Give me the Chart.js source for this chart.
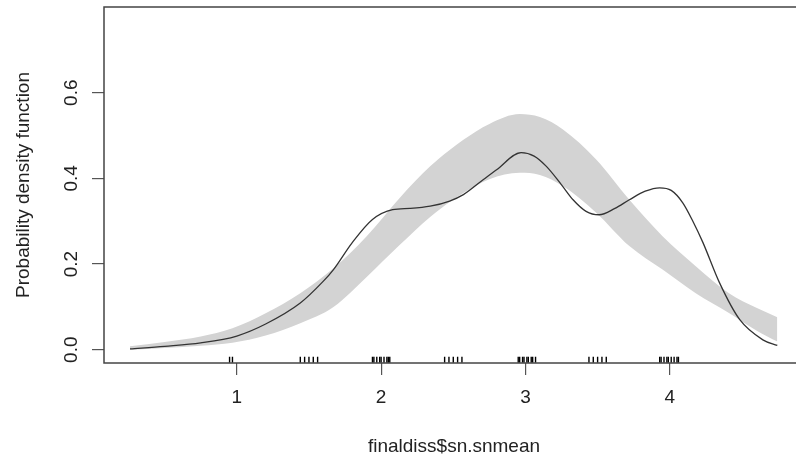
<!DOCTYPE html>
<html>
<head>
<meta charset="utf-8">
<script src="https://cdn.jsdelivr.net/npm/chart.js@4"></script>
<style>
    html, body { margin: 0; padding: 0; background: #fff; overflow: hidden; }
    #wrap { width: 796px; height: 462px; overflow: hidden; }
</style>
</head>
<body>
<div id="wrap"><canvas id="myChart" width="810" height="462"></canvas></div>
<script>
//================================data========================================
// kernel density estimate (black line)
var densX = [0.26, 0.5, 0.75, 1.0, 1.2, 1.44, 1.6, 1.67, 1.8, 1.94, 2.08, 2.2, 2.34, 2.475, 2.57, 2.7, 2.8, 2.97, 3.06, 3.145, 3.25, 3.33, 3.42, 3.51, 3.62, 3.72, 3.83, 3.93, 4.01, 4.09, 4.16, 4.23, 4.345, 4.485, 4.645, 4.745];
var densY = [0.002, 0.008, 0.016, 0.032, 0.060, 0.109, 0.160, 0.187, 0.250, 0.304, 0.327, 0.330, 0.335, 0.347, 0.362, 0.395, 0.420, 0.460, 0.452, 0.428, 0.385, 0.350, 0.323, 0.315, 0.330, 0.350, 0.370, 0.378, 0.372, 0.343, 0.300, 0.250, 0.156, 0.070, 0.023, 0.010];

// reference band of the normal model (grey)
var bandX     = [0.26, 0.5, 0.75, 0.97, 1.2, 1.44, 1.67, 1.9, 2.13, 2.34, 2.475, 2.57, 2.75, 2.96, 3.1, 3.26, 3.49, 3.72, 3.95, 4.18, 4.41, 4.6, 4.745];
var bandUpper = [0.008, 0.018, 0.031, 0.050, 0.085, 0.132, 0.190, 0.265, 0.355, 0.428, 0.466, 0.490, 0.527, 0.550, 0.543, 0.514, 0.444, 0.350, 0.265, 0.195, 0.132, 0.098, 0.076];
var bandLower = [0.000, 0.004, 0.009, 0.016, 0.033, 0.062, 0.100, 0.170, 0.245, 0.310, 0.345, 0.366, 0.398, 0.413, 0.408, 0.382, 0.320, 0.242, 0.187, 0.132, 0.086, 0.045, 0.019];

// observations drawn as a rug
var rugX = [0.95, 0.97,
    1.44, 1.47, 1.50, 1.53, 1.56,
    1.94, 1.95, 1.97, 1.99, 2.00, 2.02, 2.04, 2.05, 2.06,
    2.44, 2.47, 2.50, 2.53, 2.56,
    2.95, 2.96, 2.98, 2.99, 3.01, 3.02, 3.04, 3.05, 3.07,
    3.44, 3.47, 3.50, 3.53, 3.56,
    3.93, 3.94, 3.96, 3.98, 3.99, 4.01, 4.03, 4.05, 4.06];
var rugLevel = -0.0234;

var xTicks = [1, 2, 3, 4];
var yTicks = [0.0, 0.2, 0.4, 0.6];
var xLabel = 'finaldiss$sn.snmean';
var yLabel = 'Probability density function';

//================================chart========================================
function pairs(xs, ys) {
    let out = [];
    for (let i = 0; i < xs.length; i++) {
        out.push({ x: xs[i], y: Array.isArray(ys) ? ys[i] : ys });
    }
    return out;
}

const boxPlugin = {
    id: 'box',
    afterDraw(chart) {
        const a = chart.chartArea;
        const c = chart.ctx;
        c.save();
        c.strokeStyle = '#444';
        c.lineWidth = 1.5;
        c.strokeRect(a.left, a.top, a.right - a.left, a.bottom - a.top);
        c.restore();
    }
};

const font = { family: '"Liberation Sans", Arial, sans-serif', size: 19 };

var chart = new Chart(document.getElementById('myChart'), {
    type: 'line',
    data: {
        datasets: [{
            label: 'lower',
            data: pairs(bandX, bandLower),
            borderWidth: 0,
            pointRadius: 0,
            fill: false,
            cubicInterpolationMode: 'monotone',
            order: 4
        }, {
            label: 'upper',
            data: pairs(bandX, bandUpper),
            borderWidth: 0,
            borderColor: 'rgba(0,0,0,0)',
            pointRadius: 0,
            backgroundColor: '#d3d3d3',
            fill: '-1',
            cubicInterpolationMode: 'monotone',
            order: 3
        }, {
            label: 'density',
            data: pairs(densX, densY),
            borderColor: '#333',
            borderWidth: 1.3,
            pointRadius: 0,
            fill: false,
            cubicInterpolationMode: 'monotone',
            order: 1
        }, {
            label: 'rug',
            data: pairs(rugX, rugLevel),
            showLine: false,
            pointStyle: 'line',
            rotation: 90,
            pointRadius: 3,
            borderWidth: 1.4,
            borderColor: '#000',
            order: 0
        }]
    },
    options: {
        responsive: false,
        devicePixelRatio: 1,
        animation: false,
        layout: { padding: { top: 7, right: 6, left: 0, bottom: 0 } },
        plugins: { legend: { display: false }, tooltip: { enabled: false } },
        scales: {
            x: {
                type: 'linear',
                min: 0.08,
                max: 4.93,
                afterFit: (s) => { s.height = 99; s.paddingLeft = 0; s.paddingRight = 0; },
                afterBuildTicks: (s) => { s.ticks = xTicks.map(v => ({ value: v })); },
                grid: { drawOnChartArea: false, tickLength: 12, color: '#555', lineWidth: 1.2 },
                border: { display: false },
                ticks: { color: '#222', font: font, padding: 11, maxRotation: 0, callback: (v) => String(v) },
                title: { display: true, text: xLabel, color: '#222', font: font, padding: { top: 0, bottom: 4 } }
            },
            y: {
                min: -0.031,
                max: 0.80,
                afterFit: (s) => { s.width = 104; s.paddingTop = 0; s.paddingBottom = 0; },
                afterBuildTicks: (s) => { s.ticks = yTicks.map(v => ({ value: v })); },
                grid: { drawOnChartArea: false, tickLength: 12, color: '#555', lineWidth: 1.2 },
                border: { display: false },
                ticks: { color: '#222', font: font, padding: 7, minRotation: 90, maxRotation: 90, crossAlign: 'center', callback: (v) => v.toFixed(1) },
                title: { display: true, text: yLabel, color: '#222', font: font, padding: { top: 12, bottom: 0 } }
            }
        }
    },
    plugins: [boxPlugin]
});
</script>
</body>
</html>
